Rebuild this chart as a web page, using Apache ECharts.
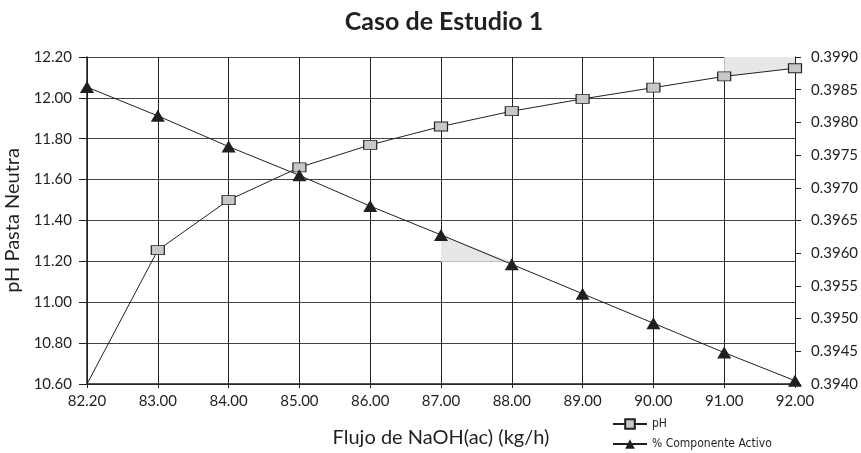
<!DOCTYPE html>
<html>
<head>
<meta charset="utf-8">
<script src="https://cdn.jsdelivr.net/npm/echarts@6/dist/echarts.min.js"></script>
<style>
html,body{margin:0;padding:0;background:#fff;}
#chart{width:861px;height:453px;}
</style>
</head>
<body>
<div id="chart"></div>
<script>
var categories = ['82.20','83.00','84.00','85.00','86.00','87.00','88.00','89.00','90.00','91.00','92.00'];
var phValues = [10.60, 11.255, 11.50, 11.66, 11.77, 11.86, 11.935, 11.995, 12.05, 12.105, 12.145];
var activoValues = [0.39854, 0.39810, 0.39763, 0.39719, 0.39672, 0.39628, 0.39583, 0.39538, 0.39493, 0.39448, 0.39405];
// decorative grey shaded regions seen in the reference: [category index, value]
var shadeLow = [[5, 0.39628], [5, 0.39587], [6, 0.39587]];
var shadeHigh = [[9, 12.105], [9, 12.20], [10, 12.20], [10, 12.145]];

var FONT = 'Lato';
var chart = echarts.init(document.getElementById('chart'));

function polySeries(points, yIndex) {
  return {
    type: 'custom',
    yAxisIndex: yIndex,
    silent: true,
    z: 1,
    data: points,
    renderItem: function (params, api) {
      if (params.dataIndex !== 0) return null;
      var pts = points.map(function (p) { return api.coord([p[0], p[1]]); });
      return {
        type: 'polygon',
        shape: { points: pts },
        style: { fill: '#e6e7e7', stroke: null }
      };
    }
  };
}

// the first pH point has no visible marker in the reference
var phData = phValues.map(function (v, i) {
  return i === 0 ? { value: v, symbol: 'none' } : v;
});

chart.setOption({
  animation: false,
  backgroundColor: '#fff',
  title: {
    text: 'Caso de Estudio 1',
    left: 439,
    textAlign: 'center',
    top: 4,
    textStyle: { fontFamily: FONT, fontWeight: 'bold', fontSize: 25, color: '#231f20' }
  },
  legend: {
    orient: 'vertical',
    left: 612,
    top: 418,
    padding: 0,
    itemWidth: 34,
    itemHeight: 12,
    itemGap: 8,
    data: ['pH', '% Componente Activo'],
    textStyle: { fontFamily: 'DejaVu Sans Condensed', fontSize: 12, color: '#231f20' }
  },
  grid: { left: 87, right: 66, top: 57, bottom: 69, outerBoundsMode: 'none', containLabel: false },
  xAxis: {
    type: 'category',
    data: categories,
    boundaryGap: false,
    name: 'Flujo de NaOH(ac) (kg/h)',
    nameLocation: 'middle',
    nameGap: 44,
    nameTextStyle: { fontFamily: FONT, fontSize: 20, color: '#231f20' },
    axisLine: { lineStyle: { color: '#231f20', width: 1.5 } },
    axisTick: { show: true, length: 4, lineStyle: { color: '#231f20' } },
    axisLabel: { fontFamily: FONT, fontSize: 15, color: '#231f20', margin: 10 },
    splitLine: { show: true, lineStyle: { color: '#231f20', width: 1 } }
  },
  yAxis: [
    {
      type: 'value',
      min: 10.6,
      max: 12.2,
      interval: 0.2,
      name: 'pH Pasta Neutra',
      nameLocation: 'middle',
      nameGap: 62,
      nameRotate: 90,
      nameTextStyle: { fontFamily: FONT, fontSize: 20, color: '#231f20' },
      axisLine: { show: true, lineStyle: { color: '#231f20', width: 1.5 } },
      axisTick: { show: true, length: 8, lineStyle: { color: '#231f20' } },
      axisLabel: { fontFamily: FONT, fontSize: 15, color: '#231f20', margin: 15,
        formatter: function (v) { return v.toFixed(2); } },
      splitLine: { show: true, lineStyle: { color: '#444444', width: 1 } }
    },
    {
      type: 'value',
      min: 0.394,
      max: 0.399,
      interval: 0.0005,
      position: 'right',
      axisLine: { show: true, lineStyle: { color: '#231f20', width: 1 } },
      axisTick: { show: true, length: 6, lineStyle: { color: '#231f20' } },
      axisLabel: { fontFamily: FONT, fontSize: 15, color: '#231f20', margin: 16,
        formatter: function (v) { return v.toFixed(4); } },
      splitLine: { show: false }
    }
  ],
  series: [
    polySeries(shadeLow, 1),
    polySeries(shadeHigh, 0),
    {
      name: 'pH',
      type: 'line',
      yAxisIndex: 0,
      data: phData,
      symbol: 'rect',
      symbolSize: [13, 9],
      showAllSymbol: true,
      z: 3,
      lineStyle: { color: '#231f20', width: 1 },
      itemStyle: { color: '#c8c8c8', borderColor: '#231f20', borderWidth: 1 }
    },
    {
      name: '% Componente Activo',
      type: 'line',
      yAxisIndex: 1,
      data: activoValues,
      symbol: 'triangle',
      symbolSize: [14, 12],
      showAllSymbol: true,
      z: 4,
      lineStyle: { color: '#231f20', width: 1 },
      itemStyle: { color: '#231f20', borderColor: '#231f20', borderWidth: 0 }
    }
  ]
});
</script>
</body>
</html>
